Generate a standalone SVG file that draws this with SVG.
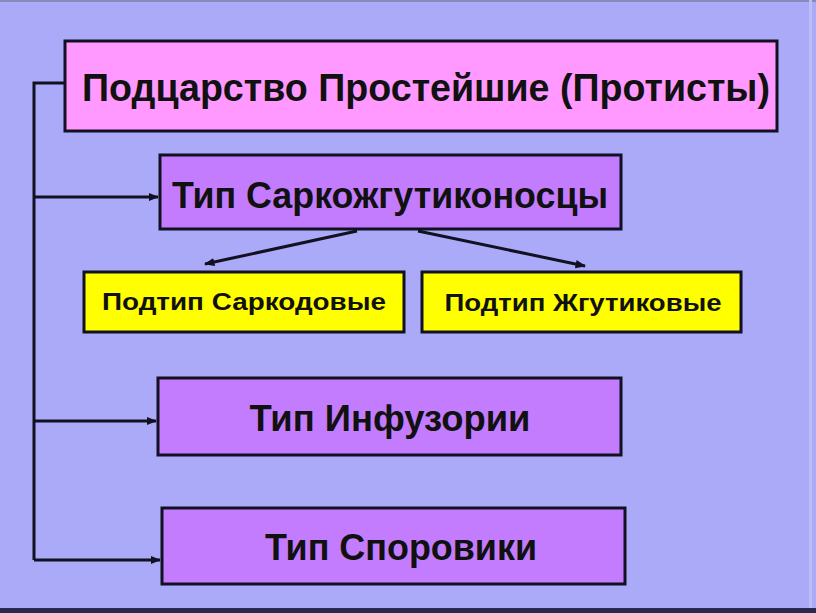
<svg xmlns="http://www.w3.org/2000/svg" width="816" height="613" viewBox="0 0 816 613">
<style>
.bg{fill:#AAAAF8}
.box{stroke:#111122;stroke-width:3}
.pink{fill:#FF99FF}
.violet{fill:#C47CFF}
.yellow{fill:#FFFF00}
.t{font-family:"Liberation Sans",Arial,sans-serif;font-weight:bold;fill:#111111;text-anchor:middle}
.c{fill:none;stroke:#111122;stroke-width:3}
</style>
<defs>
<marker id="ah" viewBox="0 0 10 10" refX="9" refY="5" markerWidth="3.5" markerHeight="3.5" orient="auto" markerUnits="strokeWidth">
<path d="M0,1 L10,5 L0,9 z" fill="#111122"/>
</marker>
</defs>
<rect class="bg" x="0" y="0" width="816" height="613"/>
<rect x="0" y="0" width="816" height="2" fill="#8A8AB8"/>
<rect x="0" y="608" width="816" height="5" fill="#2A2A50"/>
<rect x="809" y="0" width="3" height="608" fill="#BCBCF8"/>
<g id="connectors">
<path class="c" d="M65,83 H34 V560"/>
<line class="c" x1="34" y1="197" x2="158" y2="197" marker-end="url(#ah)"/>
<line class="c" x1="34" y1="421" x2="156" y2="421" marker-end="url(#ah)"/>
<line class="c" x1="34" y1="560" x2="160" y2="560" marker-end="url(#ah)"/>
<line class="c" x1="357" y1="231" x2="205" y2="264" marker-end="url(#ah)"/>
<line class="c" x1="418" y1="231" x2="585" y2="266" marker-end="url(#ah)"/>
</g>
<g id="n1">
<rect class="box pink" x="65" y="41" width="712" height="90"/>
<text class="t" x="426" y="101" font-size="38" textLength="688" lengthAdjust="spacingAndGlyphs">Подцарство Простейшие (Протисты)</text>
</g>
<g id="n2">
<rect class="box violet" x="160" y="155" width="461" height="74"/>
<text class="t" x="390" y="208" font-size="36" textLength="436" lengthAdjust="spacingAndGlyphs">Тип Саркожгутиконосцы</text>
</g>
<g id="n3">
<rect class="box yellow" x="84" y="272" width="320" height="60"/>
<text class="t" x="244" y="310" font-size="23" textLength="284" lengthAdjust="spacingAndGlyphs">Подтип Саркодовые</text>
</g>
<g id="n4">
<rect class="box yellow" x="422" y="272" width="319" height="60"/>
<text class="t" x="583" y="311" font-size="23" textLength="277" lengthAdjust="spacingAndGlyphs">Подтип Жгутиковые</text>
</g>
<g id="n5">
<rect class="box violet" x="158" y="378" width="463" height="77"/>
<text class="t" x="390" y="431" font-size="36" textLength="281" lengthAdjust="spacingAndGlyphs">Тип Инфузории</text>
</g>
<g id="n6">
<rect class="box violet" x="162" y="508" width="463" height="76"/>
<text class="t" x="401" y="560" font-size="36" textLength="272" lengthAdjust="spacingAndGlyphs">Тип Споровики</text>
</g>
</svg>
